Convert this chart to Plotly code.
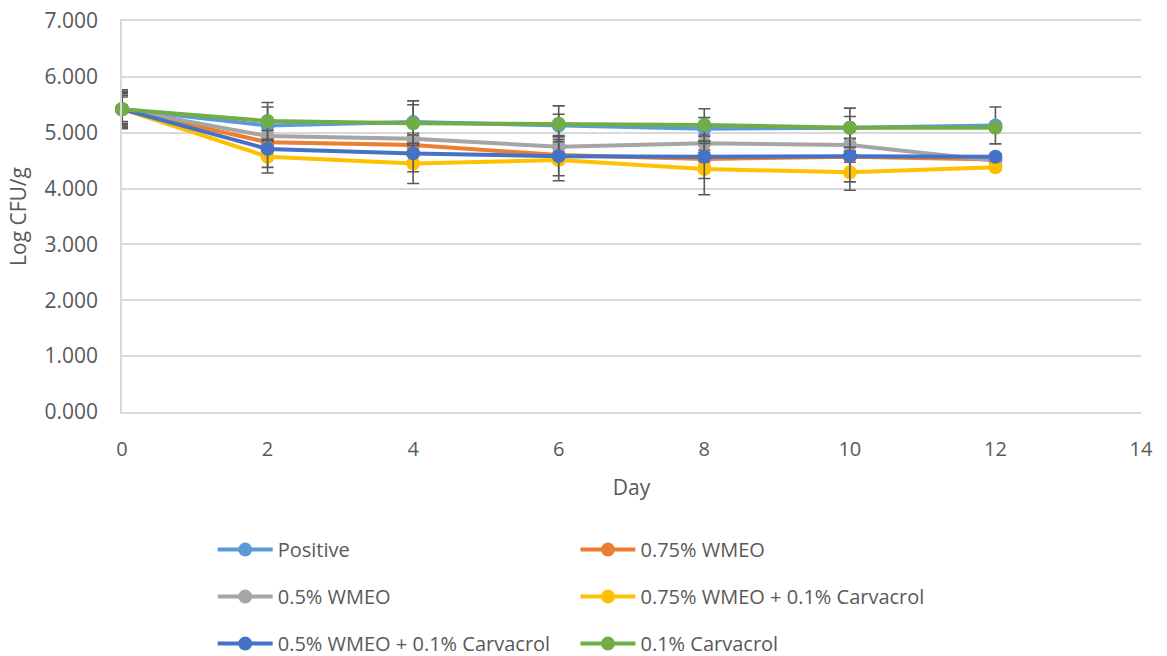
import plotly.graph_objects as go

days = [0, 2, 4, 6, 8, 10, 12]

series_names = ["Positive", "0.75% WMEO", "0.5% WMEO",
                "0.75% WMEO + 0.1% Carvacrol", "0.5% WMEO + 0.1% Carvacrol", "0.1% Carvacrol"]

positive = [5.42, 5.13, 5.19, 5.13, 5.07, 5.09, 5.13]
wmeo075 = [5.42, 4.83, 4.78, 4.60, 4.53, 4.57, 4.52]
wmeo05 = [5.42, 4.94, 4.89, 4.75, 4.81, 4.78, 4.50]
wmeo075_carv = [5.42, 4.57, 4.45, 4.51, 4.35, 4.29, 4.38]
wmeo05_carv = [5.42, 4.71, 4.63, 4.58, 4.57, 4.58, 4.57]
carv = [5.42, 5.21, 5.17, 5.16, 5.14, 5.09, 5.09]

err_positive = [0.35, 0.33, 0.31, 0.20, 0.20, 0.20, 0.33]
err_wmeo075 = [0.30, 0.10, 0.10, 0.15, 0.12, 0.10, 0.10]
err_wmeo05 = [0.25, 0.10, 0.10, 0.20, 0.12, 0.12, 0.05]
err_wmeo075_carv = [0.32, 0.29, 0.36, 0.37, 0.46, 0.32, 0.05]
err_wmeo05_carv = [0.28, 0.33, 0.33, 0.35, 0.39, 0.46, 0.05]
err_carv = [0.22, 0.33, 0.40, 0.32, 0.29, 0.35, 0.05]

values = [positive, wmeo075, wmeo05, wmeo075_carv, wmeo05_carv, carv]
errors = [err_positive, err_wmeo075, err_wmeo05, err_wmeo075_carv, err_wmeo05_carv, err_carv]
colors = ["#5B9BD5", "#ED7D31", "#A5A5A5", "#FFC000", "#4472C4", "#70AD47"]
legend_ids = ["legend", "legend2", "legend", "legend2", "legend", "legend2"]

y_range = [0, 7]
y_step = 1
y_tickformat = ".3f"   # tick labels 0.000 ... 7.000
x_range = [0, 14]
x_step = 2             # tick labels 0, 2, ..., 14

FONT = "Open Sans"
TXT = "#595959"

fig = go.Figure()
for name, y, e, c, lg in zip(series_names, values, errors, colors, legend_ids):
    fig.add_trace(go.Scatter(
        x=days, y=y, name=name, mode="lines+markers",
        line=dict(color=c, width=4),
        marker=dict(color=c, size=14),
        error_y=dict(type="data", array=e, visible=True, color="#595959", thickness=1.6, width=6),
        legend=lg, legendgroup=name, cliponaxis=False,
    ))

legend_common = dict(
    orientation="v", font=dict(family=FONT, size=20, color=TXT),
    bgcolor="rgba(0,0,0,0)", itemwidth=55, tracegroupgap=18,
    yanchor="top", xanchor="left", y=-0.302,
)

fig.update_layout(
    width=1167, height=656, autosize=False,
    margin=dict(l=122, r=26, t=21, b=244, autoexpand=False),
    paper_bgcolor="white", plot_bgcolor="white",
    font=dict(family=FONT, color=TXT),
    legend=dict(x=0.089, **legend_common),
    legend2=dict(x=0.445, **legend_common),
    xaxis=dict(
        range=x_range, dtick=x_step, showgrid=False, zeroline=False, automargin=False,
        showline=True, mirror=True, linecolor="#D9D9D9", linewidth=1.5,
        ticks="", ticklabelstandoff=18,
        tickfont=dict(family=FONT, size=20, color=TXT),
        title=dict(text="Day", font=dict(family=FONT, size=21, color=TXT), standoff=20),
    ),
    yaxis=dict(
        range=y_range, dtick=y_step, tickformat=y_tickformat,
        automargin=False,
        showgrid=True, gridcolor="#D9D9D9", gridwidth=1.5,
        zeroline=False, showline=True, linecolor="#D9D9D9", linewidth=1.5,
        ticks="", ticklabelstandoff=18,
        tickfont=dict(family=FONT, size=21, color=TXT),
        title=dict(text="Log CFU/g", font=dict(family=FONT, size=21, color=TXT), standoff=12),
    ),
)

fig.write_html("out.html", config={"displayModeBar": False},
               post_script="document.body.style.margin='0px';")
